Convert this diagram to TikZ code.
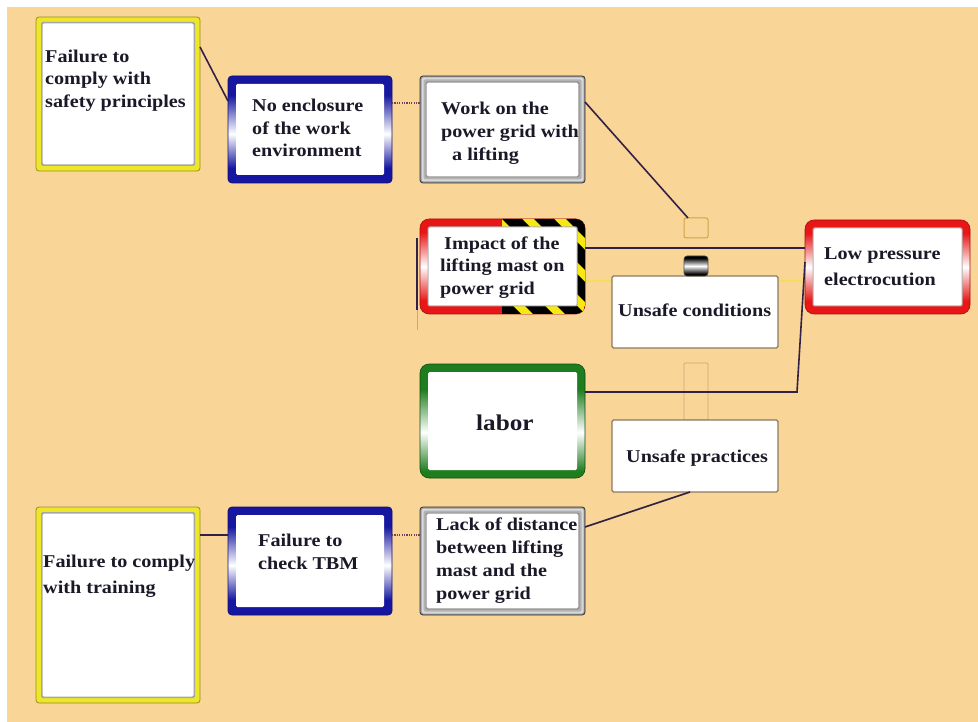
\documentclass[tikz,border=0pt]{standalone}
\usepackage{fontspec}
\setmainfont{Liberation Serif}[FakeStretch=1.12]
\usetikzlibrary{calc}
\definecolor{bgpeach}{RGB}{249,213,152}
\definecolor{ylw}{RGB}{238,230,40}
\definecolor{ylwedge}{RGB}{150,140,40}
\definecolor{bl}{RGB}{22,22,160}
\definecolor{rd}{RGB}{232,22,22}
\definecolor{gr}{RGB}{30,125,30}
\definecolor{txt}{RGB}{28,24,40}
\definecolor{conn}{RGB}{50,32,70}
\definecolor{dotc}{RGB}{120,60,90}
\definecolor{tanc}{RGB}{205,165,70}
\definecolor{tanl}{RGB}{200,170,120}
\definecolor{thinb}{RGB}{140,120,95}
\definecolor{hzy}{RGB}{245,232,20}
\pgfdeclareverticalshading{blueedge}{100bp}{color(0bp)=(bl); color(32bp)=(bl); color(48bp)=(white); color(66bp)=(bl); color(100bp)=(bl)}
\pgfdeclareverticalshading{rededge}{100bp}{color(0bp)=(rd); color(32bp)=(rd); color(50bp)=(white); color(68bp)=(rd); color(100bp)=(rd)}
\pgfdeclareverticalshading{greenedge}{100bp}{color(0bp)=(gr); color(28bp)=(gr); color(45bp)=(white); color(64bp)=(gr); color(100bp)=(gr)}
\pgfdeclareverticalshading{pillshade}{100bp}{color(0bp)=(black); color(30bp)=(black); color(50bp)=(white); color(70bp)=(black); color(100bp)=(black)}
\pgfdeclarelayer{bg}
\pgfsetlayers{bg,main}
\newcommand{\insetfill}[3]{%
  \fill[#3, rounded corners=1.5pt] ([shift={(#2pt,-#2pt)}]#1.north west) rectangle ([shift={(-#2pt,#2pt)}]#1.south east);}
\tikzset{
  boxbase/.style={rectangle, inner sep=0pt, outer sep=0pt},
  ybox/.style={boxbase, fill=ylw, draw=ylwedge, line width=0.8pt, rounded corners=3pt},
  bbox/.style={boxbase, shade, shading=blueedge, draw=bl!70!black, line width=0.8pt, rounded corners=4pt},
  gbox/.style={boxbase, fill=gray!80, draw=gray!40!black, line width=0.8pt, rounded corners=3pt},
  rbox/.style={boxbase, shade, shading=rededge, draw=rd!70!black, line width=0.6pt, rounded corners=9pt},
  grbox/.style={boxbase, shade, shading=greenedge, draw=gr!60!black, line width=0.6pt, rounded corners=9pt},
  ubox/.style={boxbase, fill=white, draw=thinb, line width=1.2pt, rounded corners=1.5pt},
  lbl/.style={font=\bfseries\fontsize{18}{22.5}\selectfont, text=txt, align=left, inner sep=0pt, anchor=west},
  conn/.style={draw=conn, line width=1.6pt},
  dotline/.style={draw=dotc, line width=1.2pt, dash pattern=on 1.2pt off 1.2pt},
}
\begin{document}
\begin{tikzpicture}[x=1pt, y=-1pt]
\useasboundingbox (0,0) rectangle (978,722);
\begin{pgfonlayer}{bg}
\fill[white] (0,0) rectangle (978,722);
\fill[bgpeach] (7,7) rectangle (978,722);
\end{pgfonlayer}

% boxes
\node[ybox, minimum width=164pt, minimum height=154pt] (b1) at (118,94) {};
\insetfill{b1}{5}{gray!70}
\insetfill{b1}{6.5}{white}

\node[bbox, minimum width=164pt, minimum height=107pt] (b2) at (310,129.5) {};
\insetfill{b2}{8}{white}

\node[gbox, minimum width=165pt, minimum height=107pt] (b3) at (502.5,129.5) {};
\insetfill{b3}{1.5}{gray!30}
\insetfill{b3}{3.5}{gray!60}
\insetfill{b3}{5.5}{gray!85}
\insetfill{b3}{6.7}{white}

\node[rbox, minimum width=165pt, minimum height=95pt] (b4) at (502.5,266.5) {};
\begin{scope}
  \clip[rounded corners=9pt] (b4.north west) rectangle (b4.south east);
  \clip ($(b4.north west)+(82,0)$) rectangle (b4.south east);
  \fill[hzy] (b4.north west) rectangle (b4.south east);
  \foreach \i in {-4,...,3} {
    \fill[black] ($(b4.north west)+(82+\i*32,0)$) -- ++(20,0) -- ++(95,95) -- ++(-20,0) -- cycle;
  }
\end{scope}
\insetfill{b4}{7.5}{gray!60}
\insetfill{b4}{8.5}{white}

\node[ubox, minimum width=166pt, minimum height=72pt] (b5) at (695,312) {};

\node[boxbase, minimum width=24pt, minimum height=20pt, draw=tanc, line width=1pt, rounded corners=2pt] (sq) at (696,228) {};
\node[boxbase, minimum width=24pt, minimum height=20pt, shade, shading=pillshade, draw=black!70, line width=0.6pt, rounded corners=3pt] (pill) at (696,266) {};

\node[rbox, minimum width=165pt, minimum height=94pt] (b8) at (887.5,267) {};
\insetfill{b8}{7.5}{gray!60}
\insetfill{b8}{8.5}{white}

\node[grbox, minimum width=165pt, minimum height=114pt] (b9) at (502.5,421) {};
\insetfill{b9}{8}{white}

\node[boxbase, minimum width=24pt, minimum height=57pt, draw=tanl, line width=0.9pt, rounded corners=1pt] (tall) at (696,391.5) {};

\node[ubox, minimum width=166pt, minimum height=72pt] (b11) at (695,456) {};

\node[ybox, minimum width=164pt, minimum height=196pt] (b12) at (118,605) {};
\insetfill{b12}{5}{gray!70}
\insetfill{b12}{6.5}{white}

\node[bbox, minimum width=164pt, minimum height=108pt] (b13) at (310,561) {};
\insetfill{b13}{8}{white}

\node[gbox, minimum width=165pt, minimum height=108pt] (b14) at (502.5,561) {};
\insetfill{b14}{1.5}{gray!30}
\insetfill{b14}{3.5}{gray!60}
\insetfill{b14}{5.5}{gray!85}
\insetfill{b14}{6.7}{white}

% faint line behind
\begin{pgfonlayer}{bg}
\draw[ylw!55!bgpeach, line width=1.5pt] ($(b4.east)+(0,14)$) -- ($(b8.west)+(0,14)$);
\end{pgfonlayer}

% texts
\node[lbl] (t1) at (45,80.5) {Failure to\\comply with\\safety principles};
\node[lbl] (t2) at (252,128) {No enclosure\\of the work\\environment};
\node[lbl, font=\bfseries\fontsize{18}{23}\selectfont] (t3) at (441,133) {Work on the\\power grid with\\\hspace*{11pt}a lifting};
\node[lbl] (t4) at (440,267.5) {\hspace*{4pt}Impact of the\\lifting mast on\\power grid};
\node[lbl] (t5) at (618,310) {Unsafe conditions};
\node[lbl, font=\bfseries\fontsize{18}{26}\selectfont] (t8) at (824,267) {Low pressure\\electrocution};
\node[lbl, font=\bfseries\fontsize{22.5}{26}\selectfont] (t9) at (476,423) {labor};
\node[lbl] (t11) at (626,458) {Unsafe practices};
\node[lbl, font=\bfseries\fontsize{18}{26}\selectfont] (t12) at (43,576) {Failure to comply\\with training};
\node[lbl, font=\bfseries\fontsize{18}{23}\selectfont] (t13) at (258,551.5) {Failure to\\check TBM};
\node[lbl, font=\bfseries\fontsize{18}{23}\selectfont] (t14) at (436,560.5) {Lack of distance\\between lifting\\mast and the\\power grid};

% connectors
\draw[conn] ($(b1.north east)+(0,30)$) -- ($(b2.north west)+(0,25)$);
\draw[dotline] ($(b2.north east)+(0,27)$) -- ($(b3.north west)+(0,27)$);
\draw[conn] ($(b3.north east)+(0,26)$) -- ($(sq.north west)+(4,0)$);
\draw[conn] ($(b4.east)+(0,-18.5)$) -- ($(b8.west)+(0,-19)$);
\draw[conn] ($(b9.north east)+(0,28)$) -- ++(212,0) -- ($(b8.south west)+(0,-52)$);
\draw[conn] ($(b14.north east)+(0,20)$) -- ($(b11.south)+(-5,0)$);
\draw[conn] ($(b12.north east)+(0,28)$) -- ($(b13.north west)+(0,28)$);
\draw[dotline] ($(b13.north east)+(0,28)$) -- ($(b14.north west)+(0,28)$);
\coordinate (v1) at ($(b4.north west)+(-3,19)$);
\coordinate (v2) at ($(b4.south west)+(-3,-4)$);
\coordinate (v3) at ($(b4.south west)+(-3,16)$);
\draw[conn, line width=1.2pt] (v1) -- (v2);
\draw[tanl, line width=0.8pt] (v2) -- (v3);
\end{tikzpicture}
\end{document}
